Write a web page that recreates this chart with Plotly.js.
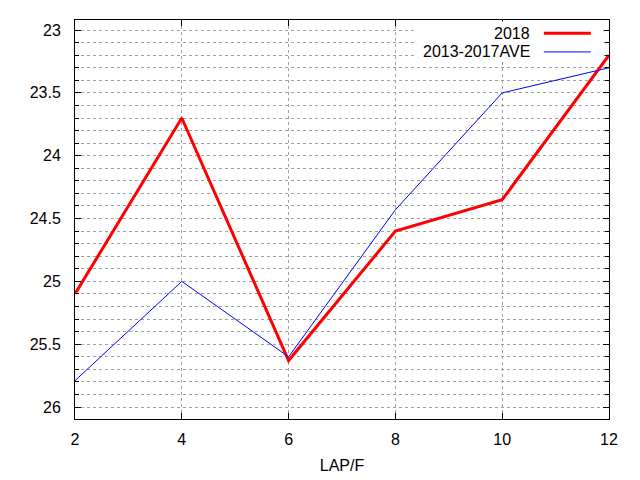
<!DOCTYPE html>
<html>
<head>
<meta charset="utf-8">
<script src="https://cdn.plot.ly/plotly-3.0.1.min.js"></script>
<style>
  html, body { margin: 0; padding: 0; background: #fff; }
  #chart { width: 640px; height: 480px; }
</style>
</head>
<body>
<div id="chart"></div>
<script>
// LAP/F por serie (eje Y invertido, como en el original)
const laps = [2, 4, 6, 8, 10, 12];
const serie2018 = [25.1, 23.7, 25.63, 24.6, 24.35, 23.2];
const serieAve = [25.79, 25.0, 25.6, 24.43, 23.5, 23.3];
const nombres = ['2018', '2013-2017AVE'];
const colores = ['#ff0000', '#0000ff'];
const anchos = [3, 1];

const FUENTE = { family: '"Liberation Sans", Arial, sans-serif', size: 16, color: '#000' };
const gris = '#a0a0a0';

const trazas = [serie2018, serieAve].map((ys, i) => ({
  type: 'scatter',
  mode: 'lines',
  x: laps,
  y: ys,
  name: nombres[i],
  line: { color: colores[i], width: anchos[i] },
  showlegend: false,
  hoverinfo: 'skip',
}));

// leyenda al estilo gnuplot: texto a la derecha, muestra de línea después
const leyendaY = [0.967, 0.92];
const anotaciones = nombres.map((n, i) => ({
  xref: 'paper', yref: 'paper',
  x: 0.856, y: leyendaY[i],
  xanchor: 'right', yanchor: 'middle',
  text: n, showarrow: false, font: FUENTE,
}));
// fondo blanco de la leyenda: tapa la grilla (ninguna curva pasa por ahí)
const formas = [{
  type: 'rect', xref: 'paper', yref: 'paper',
  x0: 0.635, x1: 0.99, y0: 0.9, y1: 0.997,
  fillcolor: '#fff', line: { width: 0 }, layer: 'above',
}].concat(nombres.map((n, i) => ({
  type: 'line', xref: 'paper', yref: 'paper',
  x0: 0.878, x1: 0.966, y0: leyendaY[i], y1: leyendaY[i],
  line: { color: colores[i], width: anchos[i] },
})));

const ejeComun = {
  showline: true, linecolor: '#000', linewidth: 1, mirror: 'allticks',
  ticks: 'inside', ticklen: 6, tickcolor: '#000',
  showgrid: true, gridcolor: gris, griddash: '3px,3px', gridwidth: 1,
  zeroline: false, tickfont: FUENTE,
};

const layout = {
  width: 640, height: 480,
  margin: { l: 75, r: 31, t: 20, b: 61 },
  paper_bgcolor: '#fff', plot_bgcolor: '#fff',
  font: FUENTE,
  xaxis: Object.assign({}, ejeComun, {
    range: [2, 12], dtick: 2, tick0: 2, ticklabelstandoff: 6,
    title: { text: 'LAP/F', font: FUENTE, standoff: 12 },
  }),
  yaxis: Object.assign({}, ejeComun, {
    range: [26.095, 22.92], dtick: 0.5, tick0: 23, ticklabelstandoff: 10,
    minor: {
      dtick: 0.1, ticks: 'inside', ticklen: 4, tickcolor: '#000',
      showgrid: true, gridcolor: gris, griddash: '3px,3px', gridwidth: 1,
    },
  }),
  annotations: anotaciones,
  shapes: formas,
};

Plotly.newPlot('chart', trazas, layout, { displayModeBar: false, staticPlot: true });
</script>
</body>
</html>
